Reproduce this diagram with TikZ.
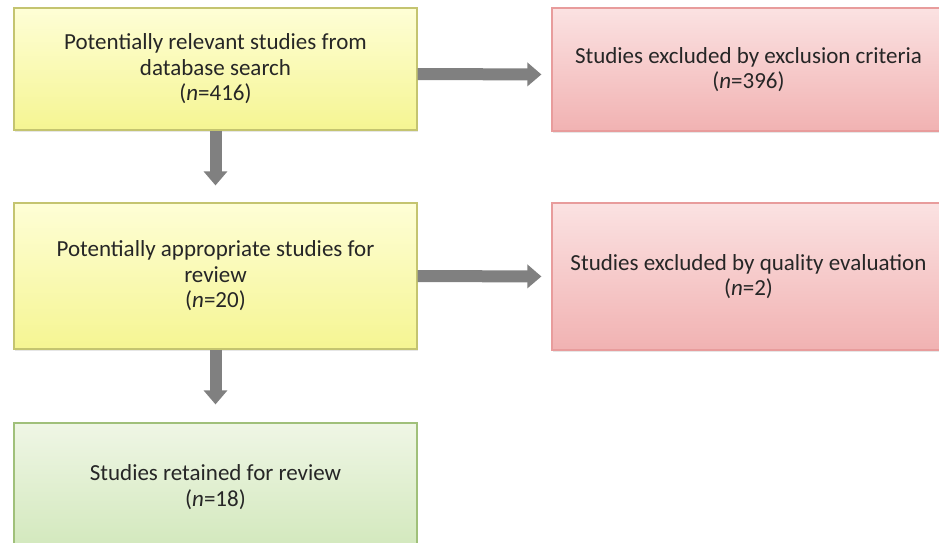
\documentclass[tikz,border=0pt]{standalone}
\usepackage{fontspec}
\setmainfont{Carlito}
\usetikzlibrary{arrows.meta,shadows}
\definecolor{yellowtop}{RGB}{254,254,214}
\definecolor{yellowbot}{RGB}{245,245,146}
\definecolor{yellowline}{RGB}{196,196,112}
\definecolor{pinktop}{RGB}{251,226,226}
\definecolor{pinkbot}{RGB}{241,178,178}
\definecolor{pinkline}{RGB}{232,156,156}
\definecolor{greentop}{RGB}{239,246,229}
\definecolor{greenbot}{RGB}{210,232,188}
\definecolor{greenline}{RGB}{160,192,122}
\definecolor{arrowgray}{RGB}{128,128,128}
\begin{document}
\begin{tikzpicture}[x=1pt, y=-1pt,
  box/.style={rectangle, align=center, line width=1.2pt, text=black!85,
    font=\fontsize{23}{25.5}\selectfont,
    drop shadow={shadow xshift=0.6pt, shadow yshift=-1.6pt, opacity=0.2}},
  yellowbox/.style={box, draw=yellowline, top color=yellowtop, bottom color=yellowbot,
    minimum width=403pt},
  pinkbox/.style={box, draw=pinkline, top color=pinktop, bottom color=pinkbot,
    minimum width=393pt},
  greenbox/.style={box, draw=greenline, top color=greentop, bottom color=greenbot,
    minimum width=403pt},
  flow/.style={draw=arrowgray, line width=12pt, -{Triangle[width=23pt,length=14pt]}}]
\useasboundingbox (0,0) rectangle (939,542);

\node[yellowbox, minimum height=122pt] (rel) at (215.5,69)
  {Potentially relevant studies from\\database search\\(\textit{n}=416)};
\node[pinkbox, minimum height=123pt] (exclcrit) at (748.5,69.5)
  {Studies excluded by exclusion criteria\\(\textit{n}=396)};

\node[yellowbox, minimum height=146pt] (appr) at (215.5,276)
  {Potentially appropriate studies for\\review\\(\textit{n}=20)};
\node[pinkbox, minimum height=147pt] (exclqual) at (748.5,276.5)
  {Studies excluded by quality evaluation\\(\textit{n}=2)};

\node[greenbox, minimum height=128pt] (ret) at (215.5,487)
  {Studies retained for review\\(\textit{n}=18)};

\draw[flow, shorten >=10pt] ([yshift=-5pt]rel.east) -- ([yshift=-5pt]exclcrit.west);
\draw[flow, shorten >=10pt] (appr.east) -- (exclqual.west);
\draw[flow, shorten >=17pt] (rel.south) -- (appr.north);
\draw[flow, shorten >=18pt] (appr.south) -- (ret.north);
\end{tikzpicture}
\end{document}
